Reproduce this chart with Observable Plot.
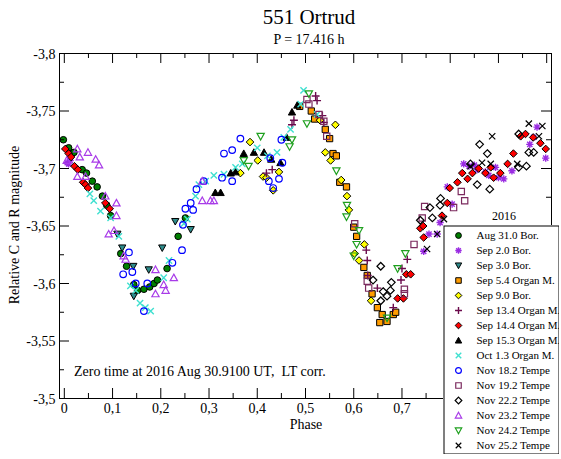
<!DOCTYPE html>
<html><head><meta charset="utf-8">
<script src="https://cdn.jsdelivr.net/npm/d3@7"></script>
<script src="https://cdn.jsdelivr.net/npm/@observablehq/plot@0.6"></script>
<style>
body{margin:0;background:#fff;}
#wrap{position:relative;width:561px;height:459px;overflow:hidden;font-family:"Liberation Serif","Times New Roman",serif;color:#000;background:#fff;}
.holder{position:absolute;}
.holder svg{display:block;}
.holder svg text{font-family:"Liberation Serif","Times New Roman",serif;}
.t{position:absolute;line-height:1;white-space:pre;}
</style></head><body>
<div id="wrap">
  <div id="main" class="holder" style="left:0;top:0;width:561px;height:459px;"></div>
  <div id="leg" class="holder" style="left:443px;top:225px;width:116px;height:229px;"></div>
  <div class="t" style="left:209px;top:7.4px;width:200px;text-align:center;font-size:21px;">551 Ortrud</div>
  <div class="t" style="left:209px;top:33.3px;width:200px;text-align:center;font-size:14px;">P = 17.416 h</div>
  <div class="t" style="left:74px;top:365.3px;font-size:14px;">Zero time at 2016 Aug 30.9100 UT,  LT corr.</div>
  <div class="t" style="left:206px;top:418.3px;width:200px;text-align:center;font-size:14px;">Phase</div>
  <div class="t" style="left:-134.7px;top:218px;width:300px;height:14px;text-align:center;font-size:14px;transform:rotate(-90deg);transform-origin:150px 7px;">Relative C and R magnitude</div>
  <div class="t" style="left:474px;top:210px;width:60px;text-align:center;font-size:12px;">2016</div>
</div>
<script>
// ---- data: [phase, relative magnitude] ----
const seriesNames = ["Aug 31.0 Bor.","Sep 2.0 Bor.","Sep 3.0 Bor.","Sep 5.4 Organ M.","Sep 9.0 Bor.","Sep 13.4 Organ M.","Sep 14.4 Organ M.","Sep 15.3 Organ M.","Oct 1.3 Organ M.","Nov 18.2 Tempe","Nov 19.2 Tempe","Nov 22.2 Tempe","Nov 23.2 Tempe","Nov 24.2 Tempe","Nov 25.2 Tempe"];

const aug31 = [[-0.002,-3.725],[0.009,-3.718],[0.020,-3.714],[0.037,-3.699],[0.046,-3.696],[0.058,-3.689],[0.068,-3.684],[0.079,-3.676],[0.088,-3.668],[0.096,-3.659],[0.117,-3.626],[0.129,-3.615],[0.144,-3.599],[0.152,-3.594],[0.165,-3.595],[0.177,-3.597],[0.186,-3.600],[0.193,-3.603],[0.213,-3.613],[0.236,-3.641],[0.251,-3.657]];
const sep2 = [[0.006,-3.705],[0.009,-3.704],[0.012,-3.707],[0.745,-3.628],[0.756,-3.643],[0.773,-3.643],[0.779,-3.653],[0.794,-3.684],[0.804,-3.669],[0.828,-3.704],[0.839,-3.702],[0.850,-3.703],[0.856,-3.699],[0.873,-3.697],[0.880,-3.694],[0.894,-3.701],[0.900,-3.692],[0.911,-3.691],[0.928,-3.698],[0.965,-3.721],[0.973,-3.727],[0.980,-3.736],[0.998,-3.709]];
const sep3 = [[0.110,-3.643],[0.120,-3.631],[0.143,-3.615],[0.144,-3.589],[0.175,-3.612],[0.203,-3.631],[0.230,-3.654],[0.262,-3.647]];
const sep5 = [[0.488,-3.754],[0.512,-3.750],[0.519,-3.743],[0.541,-3.734],[0.550,-3.726],[0.557,-3.713],[0.564,-3.711],[0.571,-3.688],[0.585,-3.684],[0.600,-3.649],[0.606,-3.641],[0.621,-3.614],[0.628,-3.607],[0.638,-3.591],[0.649,-3.579],[0.654,-3.566],[0.659,-3.573],[0.669,-3.567],[0.682,-3.573],[0.687,-3.575]];
const sep9 = [[0.365,-3.696],[0.385,-3.723],[0.401,-3.707],[0.412,-3.693],[0.419,-3.692],[0.433,-3.681],[0.445,-3.697],[0.530,-3.742],[0.541,-3.714],[0.552,-3.707],[0.562,-3.738],[0.574,-3.690],[0.586,-3.676],[0.590,-3.664],[0.602,-3.626],[0.611,-3.620],[0.622,-3.634],[0.636,-3.585]];
const sep13 = [[0.419,-3.696],[0.431,-3.699],[0.472,-3.738],[0.476,-3.742],[0.521,-3.763],[0.524,-3.759],[0.535,-3.746],[0.538,-3.740],[0.626,-3.629],[0.628,-3.620],[0.629,-3.607],[0.649,-3.596],[0.682,-3.579],[0.698,-3.603],[0.700,-3.613],[0.711,-3.621]];
const sep14 = [[0.002,-3.717],[0.009,-3.713],[0.014,-3.710],[0.021,-3.702],[0.028,-3.699],[0.039,-3.688],[0.044,-3.686],[0.049,-3.683],[0.085,-3.670],[0.094,-3.665],[0.691,-3.587],[0.703,-3.587],[0.709,-3.608],[0.718,-3.608],[0.738,-3.648],[0.744,-3.650],[0.745,-3.640],[0.783,-3.659],[0.794,-3.670],[0.799,-3.683],[0.815,-3.688],[0.825,-3.696],[0.836,-3.691],[0.846,-3.696],[0.859,-3.700],[0.873,-3.696],[0.884,-3.701],[0.890,-3.692],[0.904,-3.696],[0.919,-3.704],[0.931,-3.713],[0.946,-3.728],[0.956,-3.730],[0.972,-3.727],[0.987,-3.722],[0.998,-3.717]];
const sep15 = [[0.313,-3.679],[0.324,-3.679],[0.345,-3.696],[0.355,-3.697],[0.372,-3.713],[0.393,-3.714],[0.414,-3.714],[0.429,-3.708],[0.448,-3.705],[0.461,-3.727],[0.472,-3.749],[0.483,-3.755]];
const oct1 = [[0.053,-3.678],[0.061,-3.672],[0.075,-3.663],[0.096,-3.657],[0.113,-3.641],[0.137,-3.598],[0.148,-3.594],[0.157,-3.583],[0.168,-3.579],[0.179,-3.576],[0.206,-3.605],[0.217,-3.620],[0.248,-3.652],[0.255,-3.656],[0.272,-3.676],[0.279,-3.686],[0.293,-3.689],[0.310,-3.694],[0.331,-3.695],[0.355,-3.701],[0.369,-3.704],[0.400,-3.718],[0.421,-3.711],[0.441,-3.714],[0.455,-3.727],[0.469,-3.734],[0.490,-3.756],[0.496,-3.768],[0.524,-3.747]];
const nov18 = [[0.122,-3.608],[0.134,-3.627],[0.141,-3.610],[0.148,-3.600],[0.165,-3.576],[0.172,-3.600],[0.224,-3.618],[0.244,-3.629],[0.246,-3.651],[0.251,-3.665],[0.262,-3.670],[0.267,-3.664],[0.274,-3.682],[0.289,-3.689],[0.327,-3.692],[0.348,-3.689],[0.331,-3.713],[0.348,-3.716],[0.365,-3.726],[0.424,-3.689],[0.427,-3.709],[0.433,-3.683],[0.445,-3.691],[0.450,-3.725],[0.452,-3.705]];
const nov19 = [[0.503,-3.760],[0.507,-3.756],[0.528,-3.747],[0.538,-3.741],[0.544,-3.728],[0.602,-3.652],[0.628,-3.602],[0.631,-3.596],[0.705,-3.595],[0.705,-3.591],[0.725,-3.634],[0.742,-3.657],[0.747,-3.667],[0.807,-3.666],[0.823,-3.680],[0.830,-3.672]];
const nov22 = [[0.640,-3.603],[0.656,-3.615],[0.661,-3.593],[0.656,-3.585],[0.678,-3.601],[0.676,-3.594],[0.669,-3.589],[0.738,-3.655],[0.758,-3.666],[0.763,-3.657],[0.780,-3.674],[0.779,-3.668],[0.842,-3.704],[0.856,-3.686],[0.861,-3.721],[0.877,-3.713],[0.882,-3.682],[0.942,-3.730],[0.942,-3.701],[0.958,-3.702],[0.963,-3.714],[0.973,-3.714]];
const nov23 = [[0.005,-3.707],[0.027,-3.717],[0.032,-3.710],[0.049,-3.714],[0.065,-3.708],[0.072,-3.703],[0.027,-3.693],[0.044,-3.693],[0.085,-3.676],[0.108,-3.670],[0.108,-3.659],[0.092,-3.643],[0.103,-3.646],[0.123,-3.624],[0.127,-3.621],[0.189,-3.612],[0.206,-3.599],[0.210,-3.594],[0.189,-3.591],[0.227,-3.605],[0.286,-3.689],[0.286,-3.672],[0.303,-3.672],[0.310,-3.672]];
const nov24 = [[0.372,-3.707],[0.382,-3.702],[0.407,-3.728],[0.467,-3.719],[0.472,-3.725],[0.503,-3.739],[0.507,-3.765],[0.564,-3.698],[0.585,-3.658],[0.586,-3.668],[0.600,-3.624],[0.606,-3.634],[0.611,-3.646],[0.669,-3.570],[0.691,-3.613],[0.707,-3.626]];
const nov25 = [[0.752,-3.630],[0.773,-3.643],[0.787,-3.656],[0.842,-3.702],[0.866,-3.705],[0.884,-3.704],[0.887,-3.728],[0.939,-3.704],[0.963,-3.739],[0.984,-3.728],[0.991,-3.737]];

const seriesData = [aug31, sep2, sep3, sep5, sep9, sep13, sep14, sep15, oct1, nov18, nov19, nov22, nov23, nov24, nov25];

const xTicks = [0,0.1,0.2,0.3,0.4,0.5,0.6,0.7,0.8,0.9,1];
const xTickLabels = [0,0.1,0.2,0.3,0.4,0.5,0.6,0.7]; // the rest sit under the legend box
const xMinor = [0.05,0.15,0.25,0.35,0.45,0.55,0.65,0.75,0.85,0.95];
const yTicks = [-3.8,-3.75,-3.7,-3.65,-3.6,-3.55,-3.5];
const yMinor = [-3.775,-3.725,-3.675,-3.625,-3.575,-3.525];

// ---- symbols ----
const mk = f => ({draw(c, size){ f(c, Math.sqrt(size/Math.PI)); }});
const SQUARE = mk((c,r)=>{const h=r*0.95; c.moveTo(-h,-h); c.lineTo(h,-h); c.lineTo(h,h); c.lineTo(-h,h); c.closePath();});
const DIAMOND = mk((c,r)=>{const h=r*1.15; c.moveTo(0,-h); c.lineTo(h,0); c.lineTo(0,h); c.lineTo(-h,0); c.closePath();});
const TRI_UP = mk((c,r)=>{const h=r*1.1; c.moveTo(0,-h); c.lineTo(h,h*0.8); c.lineTo(-h,h*0.8); c.closePath();});
const TRI_DOWN = mk((c,r)=>{const h=r*1.1; c.moveTo(0,h); c.lineTo(h,-h*0.8); c.lineTo(-h,-h*0.8); c.closePath();});
const PLUS = mk((c,r)=>{const h=r*1.2; c.moveTo(-h,0); c.lineTo(h,0); c.moveTo(0,-h); c.lineTo(0,h);});
const TIMES = mk((c,r)=>{const h=r*0.95; c.moveTo(-h,-h); c.lineTo(h,h); c.moveTo(-h,h); c.lineTo(h,-h);});
const STAR8 = mk((c,r)=>{const h=r*1.1, k=h*0.72; c.moveTo(-h,0); c.lineTo(h,0); c.moveTo(0,-h); c.lineTo(0,h); c.moveTo(-k,-k); c.lineTo(k,k); c.moveTo(-k,k); c.lineTo(k,-k);});

const styles = [
  {symbol:"circle", fill:"#007f00", stroke:"#000", sw:1},
  {symbol:STAR8, fill:"none", stroke:"#9a2be2", sw:1.4},
  {symbol:TRI_DOWN, fill:"#2e8b8b", stroke:"#000", sw:1},
  {symbol:SQUARE, fill:"#ff9c00", stroke:"#000", sw:1},
  {symbol:DIAMOND, fill:"#ffff00", stroke:"#000", sw:1},
  {symbol:PLUS, fill:"none", stroke:"#6b0a4c", sw:1.4},
  {symbol:DIAMOND, fill:"#ff0000", stroke:"#000", sw:1},
  {symbol:TRI_UP, fill:"#000", stroke:"#000", sw:1},
  {symbol:TIMES, fill:"none", stroke:"#40e0d0", sw:1.4},
  {symbol:"circle", fill:"none", stroke:"#0000ff", sw:1.2},
  {symbol:SQUARE, fill:"none", stroke:"#7b2a5e", sw:1.2},
  {symbol:DIAMOND, fill:"none", stroke:"#000", sw:1.2},
  {symbol:TRI_UP, fill:"none", stroke:"#a83be8", sw:1.2},
  {symbol:TRI_DOWN, fill:"none", stroke:"#1fa01f", sw:1.2},
  {symbol:TIMES, fill:"none", stroke:"#000", sw:1.2}
];

const fmt = d => String(d).replace(".", ",");
const W = 561, H = 459, ML = 59, MR = 10, MT = 53, MB = 61;
const FW = W - ML - MR, FH = H - MT - MB;
const font = "'Liberation Serif','Times New Roman',serif";

const main = Plot.plot({
  width: W, height: H,
  marginLeft: ML, marginRight: MR, marginTop: MT, marginBottom: MB,
  x: {domain: [-0.01, 1.01], label: null},
  y: {domain: [-3.5, -3.8], label: null},
  style: `font-family:${font};font-size:14px;background:white;color:black;`,
  marks: [
    ...seriesData.map((data, i) => Plot.dot(data, {
      x: d => d[0], y: d => d[1], symbol: styles[i].symbol, r: 3.3,
      fill: styles[i].fill, stroke: styles[i].stroke, strokeWidth: styles[i].sw
    })),
    Plot.frame({stroke: "black", strokeWidth: 1}),
    Plot.tickX(xTicks, {x: d => d, insetTop: FH - 10, stroke: "black"}),
    Plot.tickX(xTicks, {x: d => d, insetBottom: FH - 10, stroke: "black"}),
    Plot.tickX(xMinor, {x: d => d, insetTop: FH - 5, stroke: "black"}),
    Plot.tickX(xMinor, {x: d => d, insetBottom: FH - 5, stroke: "black"}),
    Plot.tickY(yTicks, {y: d => d, insetRight: FW - 10, stroke: "black"}),
    Plot.tickY(yTicks, {y: d => d, insetLeft: FW - 10, stroke: "black"}),
    Plot.tickY(yMinor, {y: d => d, insetRight: FW - 5, stroke: "black"}),
    Plot.tickY(yMinor, {y: d => d, insetLeft: FW - 5, stroke: "black"}),
    Plot.axisX({ticks: xTickLabels, tickSize: 0, tickPadding: 5, tickFormat: fmt, label: null, fill: "black", fontSize: 14, fontFamily: font}),
    Plot.axisY({ticks: yTicks, tickSize: 0, tickPadding: 4, tickFormat: fmt, label: null, dy: 1, fill: "black", fontSize: 14, fontFamily: font})
  ]
});
document.getElementById("main").appendChild(main);

const leg = Plot.plot({
  width: 116, height: 229, margin: 0,
  x: {domain: [0, 1], axis: null},
  y: {type: "point", domain: seriesNames, range: [9.3, 220], padding: 0, axis: null},
  style: `font-family:${font};font-size:11px;background:white;color:black;`,
  marks: [
    Plot.frame({stroke: "black", fill: "white", inset: 0.5}),
    ...seriesNames.map((name, i) => Plot.dot([name], {
      y: d => d, frameAnchor: "left", dx: 15, symbol: styles[i].symbol, r: 2.9,
      fill: styles[i].fill, stroke: styles[i].stroke, strokeWidth: styles[i].sw
    })),
    Plot.text(seriesNames, {y: d => d, frameAnchor: "left", dx: 33, textAnchor: "start", fill: "black", fontSize: 11, fontFamily: font})
  ]
});
document.getElementById("leg").appendChild(leg);
</script>
</body></html>
